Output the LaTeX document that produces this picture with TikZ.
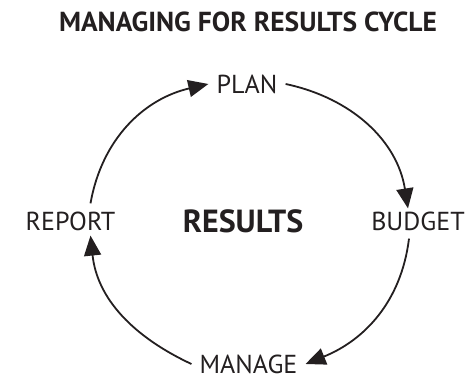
\documentclass[tikz,border=0pt]{standalone}
\usepackage{fontspec}
\setmainfont{PT Sans}
\usetikzlibrary{arrows.meta}
\definecolor{ink}{RGB}{35,31,32}

\begin{document}
\begin{tikzpicture}[x=1pt, y=1pt,
    stage/.style={font=\fontsize{26}{30}\selectfont, text=ink, inner xsep=8pt, inner ysep=3pt},
    flow/.style={-{Triangle[length=20pt, width=17pt]}, line width=1.8pt, draw=ink}
]
\useasboundingbox (0,0) rectangle (472,381);

% Title
\node[font=\fontsize{27.5}{32}\selectfont\bfseries, text=ink] (title) at (248, 359) {MANAGING FOR RESULTS CYCLE};

% Centre
\node[font=\fontsize{32}{36}\selectfont\bfseries, text=ink] (results) at (243, 160) {RESULTS};

% Stages of the cycle
\node[stage] (plan) at (247, 297) {PLAN};
\node[stage] (budget) at (418, 160) {BUDGET};
\node[stage] (manage) at (248.5, 17) {MANAGE};
\node[stage] (report) at (70.5, 160) {REPORT};

% Arrows
\draw[flow] (plan.east) to[out=-12, in=99] ([xshift=-10pt]budget.north);
\draw[flow] ([xshift=-9pt, yshift=-5pt]budget.south) to[out=-97, in=22] (manage.east);
\draw[flow] (manage.west) to[out=155, in=-84] ([xshift=20pt, yshift=-2pt]report.south);
\draw[flow] ([xshift=20pt, yshift=5pt]report.north) to[out=80, in=-167] (plan.west);

\end{tikzpicture}
\end{document}
